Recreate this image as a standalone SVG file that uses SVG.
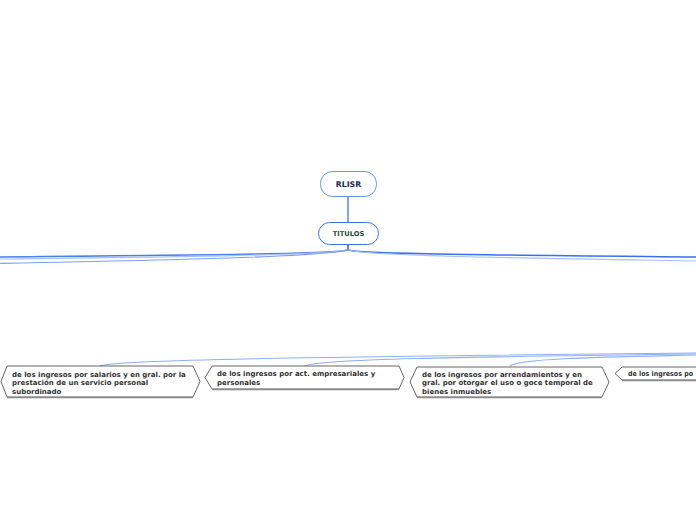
<svg xmlns="http://www.w3.org/2000/svg" width="696" height="520" viewBox="0 0 696 520">
<style>
.c{fill:none;stroke-linecap:round}
.hex{fill:#fff;stroke:#555;stroke-width:0.9}
.sh{fill:none;stroke:#8a8a8a;stroke-width:1.6}
.t{font-family:"DejaVu Sans",Verdana,sans-serif;font-weight:bold;font-size:7px;fill:#333}
</style>
<rect width="696" height="520" fill="#fff"/>
<g id="connectors">
<path class="c" d="M348,196 L348,222" stroke="#4a7df0" stroke-width="1.4"/>
<path class="c" d="M348,244 L348,250" stroke="#2e62ee" stroke-width="1.6"/>
<path class="c" d="M348,250 C 335,254 200,255 -2,257" stroke="#4a7df0" stroke-width="1.4"/>
<path class="c" d="M348,250 C 325,255 180,257 -2,259" stroke="#a8c0f8" stroke-width="1.1"/>
<path class="c" d="M348,250 C 320,257 170,260 -2,263.5" stroke="#7e9ff4" stroke-width="1.1"/>
<path class="c" d="M348,250 C 360,254 500,255 698,257" stroke="#3b6ff0" stroke-width="1.5"/>
<path class="c" d="M348,250 C 370,256 520,258 698,261" stroke="#a8c0f8" stroke-width="1.1"/>
<path class="c" d="M100,366 C 112,360 300,357 698,353" stroke="#8fb0f6" stroke-width="1.1"/>
<path class="c" d="M305,366 C 316,359 460,357 698,354" stroke="#8fb0f6" stroke-width="1.1"/>
<path class="c" d="M510,366 C 520,358 610,357 698,355" stroke="#8fb0f6" stroke-width="1.1"/>
</g>
<g id="n-rlisr">
<rect x="320.5" y="171.5" width="56" height="25" rx="12" fill="#fff" stroke="#5b9be6" stroke-width="1"/>
<text x="348.5" y="187" text-anchor="middle" font-family="DejaVu Sans,Verdana,sans-serif" font-weight="bold" font-size="7.8" fill="#1b2850">RLISR</text>
</g>
<g id="n-titulos">
<rect x="318.5" y="222.5" width="60" height="22" rx="11" fill="#fff" stroke="#3d74f0" stroke-width="1"/>
<text x="348.5" y="236" text-anchor="middle" font-family="DejaVu Sans,Verdana,sans-serif" font-weight="bold" font-size="6.7" fill="#1d4a36">TITULOS</text>
</g>
<g id="n-salarios">
<polygon class="hex" points="7,366 193,366 200,381.5 193,397 7,397 1,381.5"/>
<line class="sh" x1="7" y1="397.5" x2="193" y2="397.5"/>
<text class="t" x="12" y="376.5">de los ingresos por salarios y en gral. por la</text>
<text class="t" x="12" y="385">prestación de un servicio personal</text>
<text class="t" x="12" y="393.5">subordinado</text>
</g>
<g id="n-empresariales">
<polygon class="hex" points="212,366 399,366 404,377.5 399,389 212,389 205,377.5"/>
<line class="sh" x1="212" y1="389.5" x2="399" y2="389.5"/>
<text class="t" x="217" y="376">de los ingresos por act. empresariales y</text>
<text class="t" x="217" y="385">personales</text>
</g>
<g id="n-arrendamientos">
<polygon class="hex" points="417,367 602,367 609,382 602,397 417,397 410,382"/>
<line class="sh" x1="417" y1="397.5" x2="602" y2="397.5"/>
<text class="t" x="422" y="376.5">de los ingresos por arrendamientos y en</text>
<text class="t" x="422" y="385">gral. por otorgar el uso o goce temporal de</text>
<text class="t" x="422" y="393.5">bienes inmuebles</text>
</g>
<g id="n-otros">
<polygon class="hex" points="622,367 702,367 702,380 622,380 615,373.5"/>
<line class="sh" x1="622" y1="380.5" x2="702" y2="380.5"/>
<text class="t" x="628" y="376" textLength="65" lengthAdjust="spacingAndGlyphs">de los ingresos po</text>
</g>
</svg>
